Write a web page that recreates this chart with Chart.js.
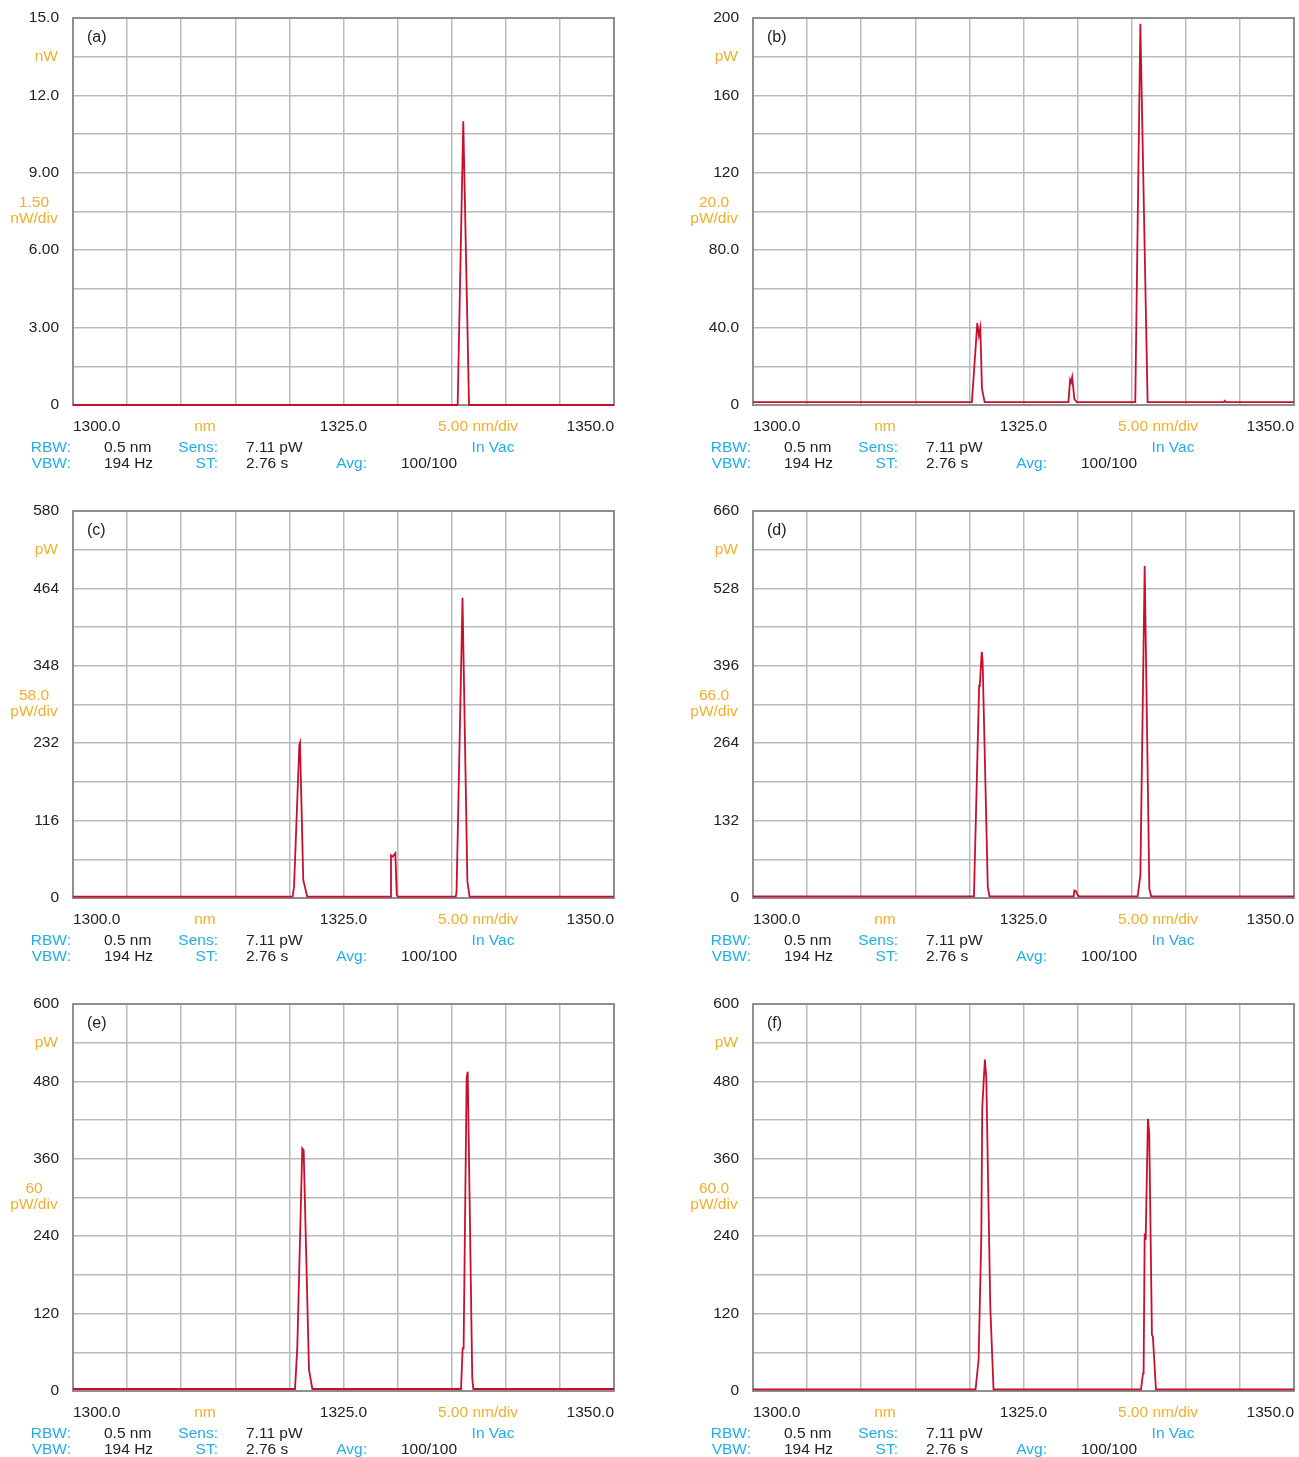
<!DOCTYPE html>
<html>
<head>
<meta charset="utf-8">
<script src="https://cdn.jsdelivr.net/npm/chart.js@4/dist/chart.umd.min.js"></script>
<style>
  html, body { margin: 0; padding: 0; background: #fff; }
  #wrap { position: relative; width: 1299px; height: 1457px; overflow: hidden; }
  #wrap canvas { position: absolute; }
</style>
</head>
<body>
<div id="wrap"></div>
<script>
// Optical spectrum traces, wavelength in nm, power in the panel's unit
const wavelengthA = [1300, 1335.55, 1336.07, 1336.6, 1350];
const powerA      = [0, 0, 11.0, 0, 0];

const wavelengthB = [1300, 1320.23, 1320.73, 1320.88, 1321.01, 1321.16, 1321.41,
                     1329.15, 1329.31, 1329.40, 1329.50, 1329.70, 1329.92,
                     1335.33, 1335.80, 1336.47, 1343.50, 1343.60, 1343.70, 1350];
const powerB      = [1.45, 1.45, 42.3, 35.9, 39.9, 8.4, 1.45,
                     1.45, 13.0, 11.8, 14.4, 3.2, 1.45,
                     1.45, 197, 1.45, 1.45, 2.2, 1.45, 1.45];

const wavelengthC = [1300, 1320.30, 1320.43, 1320.92, 1320.98, 1321.28, 1321.65,
                     1329.30, 1329.39, 1329.55, 1329.79, 1329.92, 1330.00,
                     1335.38, 1335.45, 1336.00, 1336.45, 1336.65, 1350];
const powerC      = [2.0, 2.0, 17, 230, 233, 27, 2.0,
                     2.0, 64, 62, 67, 5, 2.0,
                     2.0, 10, 450, 25, 2.0, 2.0];

const wavelengthD = [1300, 1320.42, 1320.90, 1320.97, 1321.14, 1321.22, 1321.70, 1321.86,
                     1329.64, 1329.70, 1329.85, 1329.98, 1330.10,
                     1335.55, 1335.80, 1336.20, 1336.63, 1336.80, 1350];
const powerD      = [2.9, 2.9, 362, 365, 420, 405, 18, 2.9,
                     2.9, 12.8, 11.6, 6, 2.9,
                     2.9, 38, 566, 16, 2.9, 2.9];

const wavelengthE = [1300, 1320.52, 1320.73, 1321.19, 1321.32, 1321.81, 1322.12,
                     1335.86, 1336.01, 1336.10, 1336.38, 1336.48, 1336.90, 1337.00, 1350];
const powerE      = [3.1, 3.1, 68, 376, 373, 33, 3.1,
                     3.1, 66, 66, 485, 495, 20, 3.1, 3.1];

const wavelengthF = [1300, 1320.57, 1320.85, 1321.10, 1321.19, 1321.43, 1321.56, 1321.93, 1322.23,
                     1335.86, 1336.04, 1336.10, 1336.20, 1336.29, 1336.50, 1336.62, 1336.87, 1336.96, 1337.24, 1350];
const powerF      = [2.6, 2.6, 48, 239, 440, 514, 487, 131, 2.6,
                     2.6, 27, 27, 244, 234, 422, 400, 87, 84, 2.6, 2.6];

// Vertical scale tops and tick labels (10 divisions, every second one labelled)
const yTopA = 15,  yLabelsA = ['0', '', '3.00', '', '6.00', '', '9.00', '', '12.0', '', '15.0'];
const yTopB = 200, yLabelsB = ['0', '', '40.0', '', '80.0', '', '120', '', '160', '', '200'];
const yTopC = 580, yLabelsC = ['0', '', '116', '', '232', '', '348', '', '464', '', '580'];
const yTopD = 660, yLabelsD = ['0', '', '132', '', '264', '', '396', '', '528', '', '660'];
const yTopE = 600, yLabelsE = ['0', '', '120', '', '240', '', '360', '', '480', '', '600'];
const yTopF = 600, yLabelsF = ['0', '', '120', '', '240', '', '360', '', '480', '', '600'];

// Unit, per-division step and panel tag
const unitsA = ['nW', '1.50', 'nW/div'], tagA = '(a)';
const unitsB = ['pW', '20.0', 'pW/div'], tagB = '(b)';
const unitsC = ['pW', '58.0', 'pW/div'], tagC = '(c)';
const unitsD = ['pW', '66.0', 'pW/div'], tagD = '(d)';
const unitsE = ['pW', '60',   'pW/div'], tagE = '(e)';
const unitsF = ['pW', '60.0', 'pW/div'], tagF = '(f)';

// Horizontal axis
const xStart = 1300, xStop = 1350, xStep = 5;
const xLabels = ['1300.0', '1325.0', '1350.0'];
const xUnit = 'nm', xDiv = '5.00 nm/div';

// Instrument settings printed under each trace
const settingNames  = ['RBW:', 'VBW:', 'Sens:', 'ST:', 'Avg:'];
const settingValues = ['0.5 nm', '194 Hz', '7.11 pW', '2.76 s', '100/100'];
const mediumLabel = 'In Vac';

const panels = [
  { tag: tagA, wl: wavelengthA, p: powerA, top: yTopA, labels: yLabelsA, units: unitsA },
  { tag: tagB, wl: wavelengthB, p: powerB, top: yTopB, labels: yLabelsB, units: unitsB },
  { tag: tagC, wl: wavelengthC, p: powerC, top: yTopC, labels: yLabelsC, units: unitsC },
  { tag: tagD, wl: wavelengthD, p: powerD, top: yTopD, labels: yLabelsD, units: unitsD },
  { tag: tagE, wl: wavelengthE, p: powerE, top: yTopE, labels: yLabelsE, units: unitsE },
  { tag: tagF, wl: wavelengthF, p: powerF, top: yTopF, labels: yLabelsF, units: unitsF },
];

const FONT = '"Liberation Sans", Arial, Helvetica, sans-serif';
const INK = '#222222';
const ORANGE = '#f2ae2e';
const BLUE = '#22aee6';
const TRACE = '#c8102e';
const GRID = '#b9b9be';
const FRAME = '#8e8e92';

const CANVAS_W = 650, CANVAS_H = 471;
const PLOT_L = 73, PLOT_T = 18, PLOT_R = 614, PLOT_B = 405;

const panelDecor = {
  id: 'panelDecor',
  beforeDatasetsDraw(chart) {
    const { ctx, chartArea: a } = chart;
    ctx.save();
    ctx.strokeStyle = FRAME;
    ctx.lineWidth = 2;
    ctx.strokeRect(a.left, a.top, a.right - a.left, a.bottom - a.top);
    ctx.restore();
  },
  afterDraw(chart, args, opts) {
    const { ctx, chartArea: a } = chart;
    const L = a.left, R = a.right, T = a.top, B = a.bottom;
    const W = R - L, H = B - T;
    const put = (txt, x, y, color, align, size) => {
      ctx.fillStyle = color;
      ctx.textAlign = align;
      ctx.font = (size || 15.5) + 'px ' + FONT;
      ctx.fillText(txt, x, y);
    };
    ctx.save();
    ctx.textBaseline = 'middle';
    // panel tag
    put(opts.tag, L + 14, T + 20, INK, 'left', 16);
    // vertical unit and scale per division
    put(opts.units[0], L - 15, T + H / 10, ORANGE, 'right');
    put(opts.units[1], 34, T + H / 2 - 9, ORANGE, 'center');
    put(opts.units[2], 34, T + H / 2 + 7, ORANGE, 'center');
    // horizontal axis labels
    const yx = B + 22;
    put(xLabels[0], L, yx, INK, 'left');
    put(xUnit, L + 132, yx, ORANGE, 'center');
    put(xLabels[1], L + W / 2, yx, INK, 'center');
    put(xDiv, L + 405, yx, ORANGE, 'center');
    put(xLabels[2], R, yx, INK, 'right');
    // instrument settings
    const y1 = B + 43, y2 = B + 59;
    put(settingNames[0], L - 2, y1, BLUE, 'right');
    put(settingValues[0], L + 31, y1, INK, 'left');
    put(settingNames[2], L + 145, y1, BLUE, 'right');
    put(settingValues[2], L + 173, y1, INK, 'left');
    put(mediumLabel, L + 420, y1, BLUE, 'center');
    put(settingNames[1], L - 2, y2, BLUE, 'right');
    put(settingValues[1], L + 31, y2, INK, 'left');
    put(settingNames[3], L + 145, y2, BLUE, 'right');
    put(settingValues[3], L + 173, y2, INK, 'left');
    put(settingNames[4], L + 294, y2, BLUE, 'right');
    put(settingValues[4], L + 328, y2, INK, 'left');
    ctx.restore();
  }
};

const wrap = document.getElementById('wrap');

panels.forEach((pn, i) => {
  const canvas = document.createElement('canvas');
  canvas.width = CANVAS_W;
  canvas.height = CANVAS_H;
  canvas.style.width = CANVAS_W + 'px';
  canvas.style.height = CANVAS_H + 'px';
  canvas.style.left = (i % 2) * 680 + 'px';
  canvas.style.top = Math.floor(i / 2) * 493 + 'px';
  wrap.appendChild(canvas);

  const points = pn.wl.map((w, k) => ({ x: w, y: pn.p[k] }));
  const yValues = pn.labels.map((_, k) => pn.top * k / 10);
  const xValues = [];
  for (let v = xStart; v <= xStop; v += xStep) xValues.push(v);

  new Chart(canvas, {
    type: 'line',
    data: {
      datasets: [{
        data: points,
        borderColor: TRACE,
        borderWidth: 1.8,
        pointRadius: 0,
        tension: 0,
        fill: false,
        clip: false
      }]
    },
    options: {
      responsive: false,
      animation: false,
      devicePixelRatio: 1,
      layout: { padding: { left: 0, top: PLOT_T, right: CANVAS_W - PLOT_R, bottom: CANVAS_H - PLOT_B } },
      plugins: {
        legend: { display: false },
        tooltip: { enabled: false },
        panelDecor: { tag: pn.tag, units: pn.units }
      },
      scales: {
        x: {
          type: 'linear',
          min: xStart,
          max: xStop,
          afterBuildTicks: s => { s.ticks = xValues.map(v => ({ value: v })); },
          afterFit: s => { s.height = 0; s.paddingLeft = 0; s.paddingRight = 0; },
          ticks: { display: false },
          grid: { color: GRID, lineWidth: 1.5, drawTicks: false },
          border: { display: false }
        },
        y: {
          type: 'linear',
          min: 0,
          max: pn.top,
          afterBuildTicks: s => { s.ticks = yValues.map(v => ({ value: v })); },
          afterFit: s => { s.width = PLOT_L; s.paddingTop = 0; s.paddingBottom = 0; },
          ticks: {
            padding: 14,
            color: INK,
            font: { family: FONT, size: 15.5 },
            callback: (v, idx) => pn.labels[idx]
          },
          grid: { color: GRID, lineWidth: 1.5, drawTicks: false },
          border: { display: false }
        }
      }
    },
    plugins: [panelDecor]
  });
});
</script>
</body>
</html>
